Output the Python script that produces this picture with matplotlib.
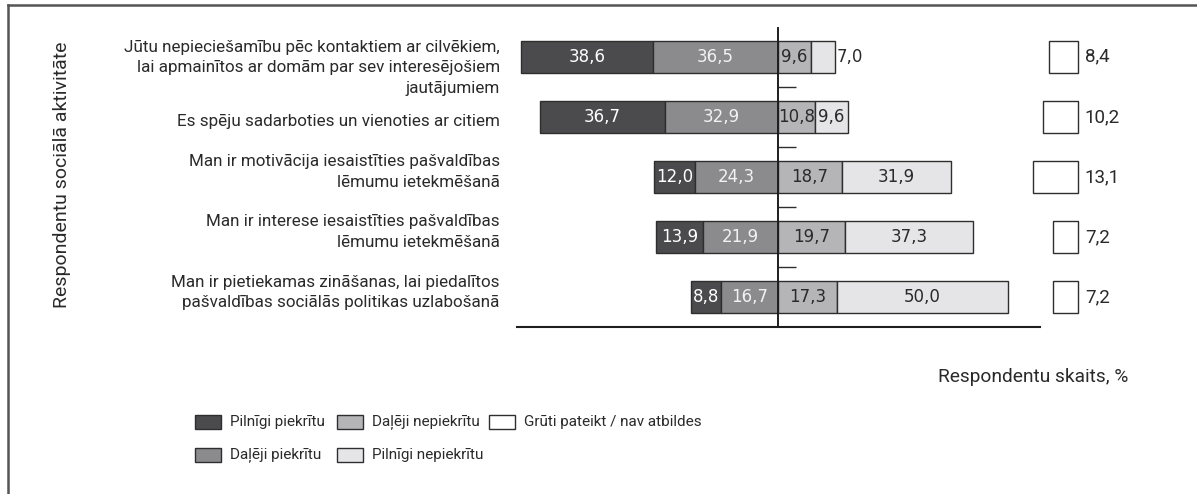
import matplotlib.pyplot as plt
import numpy as np
from matplotlib.lines import Line2D
from matplotlib.patches import Rectangle
from matplotlib.transforms import blended_transform_factory

# dati no attela
apgalvojumi = [
    "Jūtu nepieciešamību pēc kontaktiem ar cilvēkiem,\nlai apmainītos ar domām par sev interesējošiem\njautājumiem",
    "Es spēju sadarboties un vienoties ar citiem",
    "Man ir motivācija iesaistīties pašvaldības\nlēmumu ietekmēšanā",
    "Man ir interese iesaistīties pašvaldības\nlēmumu ietekmēšanā",
    "Man ir pietiekamas zināšanas, lai piedalītos\npašvaldības sociālās politikas uzlabošanā",
]
pilnigi_piekritu = [38.6, 36.7, 12.0, 13.9, 8.8]
daleji_piekritu = [36.5, 32.9, 24.3, 21.9, 16.7]
daleji_nepiekritu = [9.6, 10.8, 18.7, 19.7, 17.3]
pilnigi_nepiekritu = [7.0, 9.6, 31.9, 37.3, 50.0]
gruti_pateikt = [8.4, 10.2, 13.1, 7.2, 7.2]

nosaukumi = ["Pilnīgi piekrītu", "Daļēji piekrītu", "Daļēji nepiekrītu",
             "Pilnīgi nepiekrītu", "Grūti pateikt / nav atbildes"]
krasas = ["#4b4b4d", "#8b8b8d", "#b5b5b7", "#e5e5e7", "#ffffff"]
teksta_krasas = ["white", "#f2f2f2", "#2a2a2a", "#2a2a2a"]
mala = "#2e2e2e"
teksts = "#2a2a2a"

fonts_teksts = "Roboto"
fonts_cipari = "DejaVu Sans"

W, H = 1197, 494


def fmt(v):
    return f"{v:.1f}".replace(".", ",")


fig = plt.figure(figsize=(W / 100, H / 100), dpi=100)
ax = fig.add_axes([517 / W, 167 / H, 523 / W, 299 / H])

y = np.arange(len(apgalvojumi))
pp = np.array(pilnigi_piekritu)
dp = np.array(daleji_piekritu)
dn = np.array(daleji_nepiekritu)
pn = np.array(pilnigi_nepiekritu)
gr = np.array(gruti_pateikt)

h = 0.53
segmenti = [
    (pp, -(pp + dp)),
    (dp, -dp),
    (dn, np.zeros(len(dn))),
    (pn, dn),
]
for k, (vert, kreisa) in enumerate(segmenti):
    ax.barh(y, vert, left=kreisa, height=h, color=krasas[k],
            edgecolor=mala, linewidth=1.0, zorder=2)
    for i in range(len(y)):
        v = vert[i]
        if v < 8:
            ax.text(kreisa[i] + v + 0.4, y[i], fmt(v), ha="left", va="center",
                    fontsize=12, color=teksts, family=fonts_cipari)
        else:
            ax.text(kreisa[i] + v / 2, y[i], fmt(v), ha="center", va="center",
                    fontsize=12, color=teksta_krasas[k], family=fonts_cipari,
                    zorder=4)

# gruti pateikt - atseviski kvadrati labaja puse
gr_labais = 87.7
ax.barh(y, gr, left=gr_labais - gr, height=h, color=krasas[4],
        edgecolor=mala, linewidth=1.0, clip_on=False, zorder=2)
for i in range(len(y)):
    ax.text(gr_labais + 2.0, y[i], fmt(gr[i]), ha="left", va="center",
            fontsize=13.5, color=teksts, family=fonts_teksts)

ax.set_xlim(-76.3, 76.6)
ax.set_ylim(4.5, -0.48)

ax.spines["top"].set_visible(False)
ax.spines["right"].set_visible(False)
ax.spines["left"].set_position(("data", 0))
ax.spines["left"].set_zorder(5)
ax.spines["left"].set_linewidth(1.4)
ax.spines["bottom"].set_linewidth(1.5)
ax.spines["left"].set_color("#1e1e1e")
ax.spines["bottom"].set_color("#1e1e1e")
ax.set_xticks([])
ax.set_yticks(y[:-1] + 0.5)
ax.set_yticklabels([])
ax.tick_params(axis="y", direction="in", length=13, width=1.0, color=mala)

# apgalvojumu teksti
trans = blended_transform_factory(ax.transAxes, ax.transData)
nobide = [0.18, 0.08, -0.08, -0.08, -0.07]
for i, t in enumerate(apgalvojumi):
    ax.text(-0.033, y[i] + nobide[i], t, transform=trans, ha="right",
            va="center", multialignment="right", fontsize=12.25,
            linespacing=1.45, color=teksts, family=fonts_teksts)

fig.text(62 / W, 1 - 175 / H, "Respondentu sociālā aktivitāte", rotation=90,
         ha="center", va="center", fontsize=14, color=teksts,
         family=fonts_teksts)
fig.text(1128 / W, 1 - 377 / H, "Respondentu skaits, %", ha="right",
         va="center", fontsize=13.8, color=teksts, family=fonts_teksts)

# legenda - kvadrati un teksti pa kolonnam
kol_x = [195, 195, 337, 337, 489]
rinda_y = [422, 455, 422, 455, 422]
for k in range(5):
    x0 = kol_x[k]
    yc = rinda_y[k]
    fig.add_artist(Rectangle((x0 / W, 1 - (yc + 7) / H), 26 / W, 14 / H,
                             facecolor=krasas[k], edgecolor=mala,
                             linewidth=1.0, transform=fig.transFigure))
    fig.text((x0 + 35) / W, 1 - yc / H, nosaukumi[k], ha="left", va="center",
             fontsize=11, color=teksts, family=fonts_teksts)

# ramis
fig.add_artist(Line2D([8 / W, 1], [1 - 5 / H, 1 - 5 / H],
                      color="#555555", linewidth=1.8, transform=fig.transFigure))
fig.add_artist(Line2D([8 / W, 8 / W], [0, 1 - 5 / H],
                      color="#555555", linewidth=1.8, transform=fig.transFigure))

fig.savefig("out.png", dpi=100, facecolor="white")
